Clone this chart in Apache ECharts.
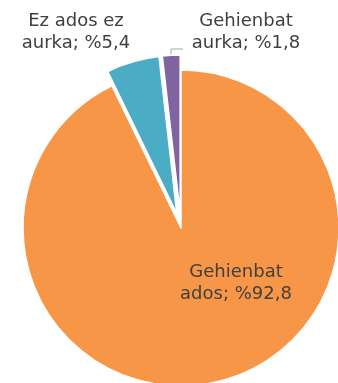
<!DOCTYPE html>
<html>
<head>
<meta charset="utf-8">
<script src="https://cdn.jsdelivr.net/npm/echarts@6/dist/echarts.min.js"></script>
<style>
  html, body { margin: 0; padding: 0; background: #fff; }
  #chart { width: 338px; height: 383px; }
</style>
</head>
<body>
<div id="chart"></div>
<script>
// Survey answers and their shares (percent)
const categories = ['Gehienbat ados', 'Ez ados ez aurka', 'Gehienbat aurka'];
const shares = [92.8, 5.4, 1.8];
const colors = ['#F79646', '#4BACC6', '#8064A2'];
const pulledOut = [false, true, true];

// Label anchors (pixel centres of each text block)
const labelAnchors = [[236, 283], [76, 32], [246, 32]];

const chart = echarts.init(document.getElementById('chart'), null, { renderer: 'canvas' });

function wrapName(name) {
  const i = name.lastIndexOf(' ');
  return name.slice(0, i) + '\n' + name.slice(i + 1);
}

const pieCenter = [181, 228];
const pieRadius = 158;

// Visible slices (the two small ones are pulled out)
const sliceData = categories.map((name, i) => ({
  name: name,
  value: shares[i],
  selected: pulledOut[i],
  itemStyle: { color: colors[i] }
}));

// Same slices, invisible, carrying only the labels
const labelData = categories.map((name, i) => ({
  name: name,
  value: shares[i],
  labelLine: { show: i === 2 }
}));

chart.setOption({
  animation: false,
  series: [{
    type: 'pie',
    center: pieCenter,
    radius: pieRadius,
    startAngle: 90,
    clockwise: true,
    selectedMode: 'multiple',
    selectedOffset: 15,
    silent: true,
    data: sliceData,
    itemStyle: { borderColor: '#ffffff', borderWidth: 1.5 },
    select: { itemStyle: { borderColor: '#ffffff', borderWidth: 1.5 } },
    emphasis: { disabled: true },
    label: { show: false },
    labelLine: { show: false }
  }, {
    type: 'pie',
    center: pieCenter,
    radius: pieRadius,
    startAngle: 90,
    clockwise: true,
    silent: true,
    avoidLabelOverlap: false,
    data: labelData,
    itemStyle: { color: 'rgba(0,0,0,0)', borderWidth: 0 },
    emphasis: { disabled: true },
    label: {
      show: true,
      position: 'outside',
      fontFamily: 'DejaVu Sans, Verdana, sans-serif',
      fontSize: 18,
      lineHeight: 22,
      color: '#404040',
      align: 'center',
      formatter: p => wrapName(p.name) + '; %' + String(p.value).replace('.', ',')
    },
    labelLine: {
      show: false,
      lineStyle: { color: '#A6A6A6', width: 1 }
    },
    labelLayout: function (params) {
      const a = labelAnchors[params.dataIndex];
      const out = { x: a[0], y: a[1], align: 'center', verticalAlign: 'middle' };
      if (params.dataIndex === 2) {
        out.labelLinePoints = [[171, 55], [171, 49], [183, 49]];
      }
      return out;
    }
  }]
});
</script>
</body>
</html>
